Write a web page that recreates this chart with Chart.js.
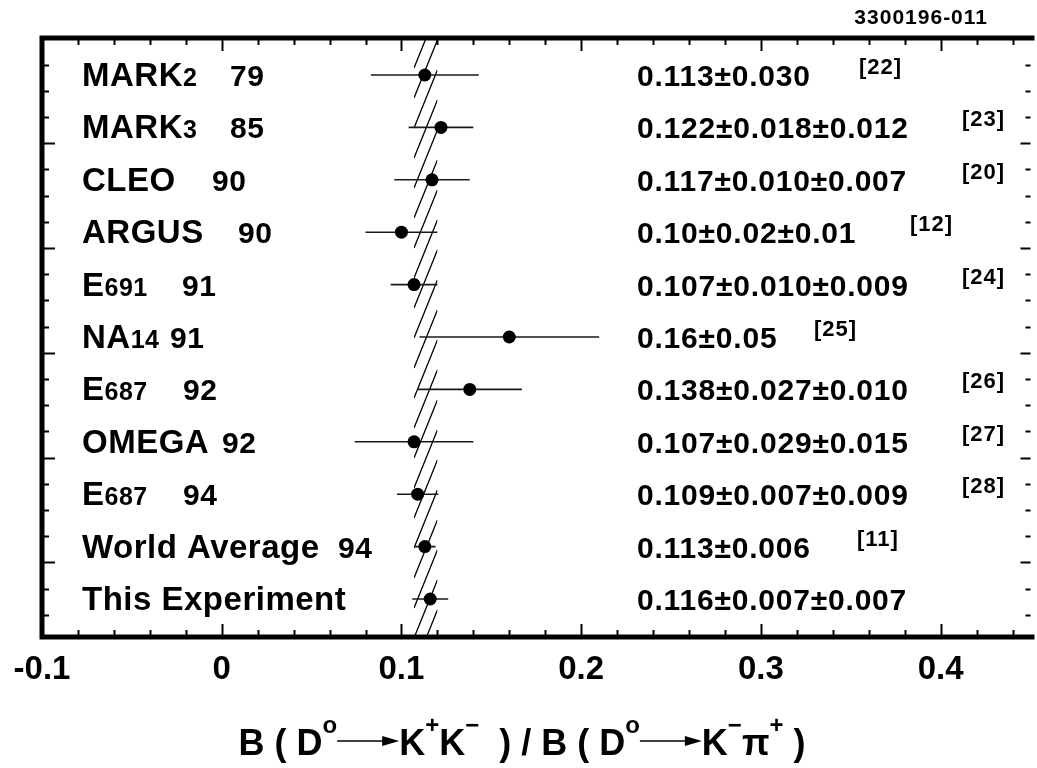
<!DOCTYPE html>
<html>
<head>
<meta charset="utf-8">
<script src="https://cdn.jsdelivr.net/npm/chart.js@4.4.1/dist/chart.umd.min.js"></script>
<style>
  html, body { margin: 0; padding: 0; background: #fff; }
  #wrap { width: 1037px; height: 768px; }
</style>
</head>
<body>
<div id="wrap"><canvas id="chart" width="1037" height="768"></canvas></div>
<script>
// B(D0 -> K+K-) / B(D0 -> K-pi+) : compilation of measurements, top to bottom
const experiments = ['MARK', 'MARK', 'CLEO', 'ARGUS', 'E', 'NA', 'E', 'OMEGA', 'E', 'World Average', 'This Experiment'];
const experimentSubs = ['2', '3', '', '', '691', '14', '687', '', '687', '', ''];
const years = ['79', '85', '90', '90', '91', '91', '92', '92', '94', '94', ''];
const ratios = [0.113, 0.122, 0.117, 0.10, 0.107, 0.16, 0.138, 0.107, 0.109, 0.113, 0.116];
const errors = [0.030, 0.018, 0.021, 0.020, 0.013, 0.050, 0.029, 0.033, 0.0115, 0.006, 0.010];
const resultTexts = [
  '0.113±0.030', '0.122±0.018±0.012', '0.117±0.010±0.007', '0.10±0.02±0.01',
  '0.107±0.010±0.009', '0.16±0.05', '0.138±0.027±0.010', '0.107±0.029±0.015',
  '0.109±0.007±0.009', '0.113±0.006', '0.116±0.007±0.007'
];
const references = ['[22]', '[23]', '[20]', '[12]', '[24]', '[25]', '[26]', '[27]', '[28]', '[11]', ''];
const bandLimits = [0.107, 0.120];
const xTickValues = [-0.1, 0, 0.1, 0.2, 0.3, 0.4];
const xTickLabels = ['-0.1', '0', '0.1', '0.2', '0.3', '0.4'];

const FONT = '"Liberation Sans", Arial, sans-serif';
const INK = '#000';

// text layout (pixels)
const LABEL_X = 82;
const YEAR_X = [230, 230, 212, 238, 182, 170, 183, 222, 183, 338, 0];
const RESULT_X = 637;
const REF_X = [859, 962, 962, 910, 962, 814, 962, 962, 962, 857, 0];

const rows = ratios.map((v, i) => i);

// hatched band of the average, drawn under the points
const hatchBand = {
  id: 'hatchBand',
  beforeDatasetsDraw(chart) {
    const { ctx, chartArea: a, scales: { x } } = chart;
    const xl = x.getPixelForValue(bandLimits[0]);
    const xr = x.getPixelForValue(bandLimits[1]);
    const rise = 58, step = 30;
    ctx.save();
    ctx.beginPath();
    ctx.rect(xl, a.top, xr - xl, a.bottom - a.top);
    ctx.clip();
    ctx.strokeStyle = INK;
    ctx.lineWidth = 1.3;
    ctx.beginPath();
    for (let y0 = a.top; y0 < a.bottom + rise; y0 += step) {
      ctx.moveTo(xl, y0);
      ctx.lineTo(xr, y0 - rise);
    }
    ctx.stroke();
    ctx.restore();
  }
};

// thick frame (open on the right) with inward ticks on all four sides
const frame = {
  id: 'frame',
  afterDraw(chart) {
    const { ctx, chartArea: a, scales: { x, y } } = chart;
    ctx.save();
    ctx.strokeStyle = INK;
    ctx.lineWidth = 2;
    ctx.beginPath();
    for (let v = -0.1; v <= 0.4501; v += 0.02) {
      const px = Math.round(x.getPixelForValue(v)) + 0.5;
      const major = Math.abs(v * 10 - Math.round(v * 10)) < 1e-6;
      const len = major ? 13 : 7;
      ctx.moveTo(px, a.bottom); ctx.lineTo(px, a.bottom - len);
      ctx.moveTo(px, a.top); ctx.lineTo(px, a.top + len);
    }
    for (let k = -4; k < 30; k++) {
      const v = 1.3 + 0.5 * k;
      if (v <= y.min || v >= y.max) continue;
      const py = Math.round(y.getPixelForValue(v)) + 0.5;
      const major = k % 4 === 0;
      ctx.moveTo(a.left, py); ctx.lineTo(a.left + (major ? 13 : 7), py);
      ctx.moveTo(a.right, py); ctx.lineTo(a.right - (major ? 10 : 5), py);
    }
    ctx.stroke();
    ctx.lineWidth = 5;
    ctx.beginPath();
    ctx.moveTo(a.right + 4, a.top);
    ctx.lineTo(a.left, a.top);
    ctx.lineTo(a.left, a.bottom);
    ctx.lineTo(a.right + 4, a.bottom);
    ctx.stroke();
    ctx.restore();
  }
};

function drawTitle(ctx, cx, base) {
  const big = 'bold 36px ' + FONT;
  const small = 'bold 24px ' + FONT;
  const pieces = [
    ['B ( D', 'n'], ['o', 'sup'], ['', 'arrow'], ['K', 'n'], ['+', 'sup'], ['K', 'n'], ['\u2212', 'sup'],
    ['  ) / B ( D', 'n'], ['o', 'sup'], ['', 'arrow'], ['K', 'n'], ['\u2212', 'sup'], ['\u03c0', 'n'], ['+', 'sup'], [' )', 'n']
  ];
  const arrowLen = 62;
  const widths = pieces.map(([t, m]) => {
    if (m === 'arrow') return arrowLen;
    ctx.font = m === 'sup' ? small : big;
    return ctx.measureText(t).width;
  });
  let px = cx - widths.reduce((s, w) => s + w, 0) / 2;
  ctx.fillStyle = INK;
  ctx.strokeStyle = INK;
  ctx.textAlign = 'left';
  ctx.textBaseline = 'alphabetic';
  pieces.forEach(([t, m], i) => {
    if (m === 'arrow') {
      const ay = base - 14;
      ctx.lineWidth = 1.5;
      ctx.beginPath();
      ctx.moveTo(px, ay); ctx.lineTo(px + arrowLen - 14, ay);
      ctx.stroke();
      ctx.beginPath();
      ctx.moveTo(px + arrowLen - 17, ay - 5);
      ctx.lineTo(px + arrowLen, ay);
      ctx.lineTo(px + arrowLen - 17, ay + 5);
      ctx.closePath();
      ctx.fill();
    } else {
      ctx.font = m === 'sup' ? small : big;
      ctx.fillText(t, px, m === 'sup' ? base - 22 : base);
    }
    px += widths[i];
  });
}

// row labels, results and references
const annotations = {
  id: 'annotations',
  afterDraw(chart) {
    const { ctx, scales: { y } } = chart;
    ctx.save();
    ctx.fillStyle = INK;
    ctx.textAlign = 'left';
    ctx.textBaseline = 'alphabetic';
    rows.forEach((r) => {
      const rowY = y.getPixelForValue(r);
      const base = rowY + 11;
      ctx.letterSpacing = '0.5px';
      ctx.font = 'bold 33px ' + FONT;
      ctx.fillText(experiments[r], LABEL_X, base);
      const px = LABEL_X + ctx.measureText(experiments[r]).width;
      if (experimentSubs[r]) {
        ctx.font = 'bold 25px ' + FONT;
        ctx.fillText(experimentSubs[r], px, base);
      }
      if (years[r]) {
        ctx.font = 'bold 30px ' + FONT;
        ctx.fillText(years[r], YEAR_X[r], base);
      }
      ctx.letterSpacing = '0.8px';
      ctx.font = 'bold 30px ' + FONT;
      ctx.fillText(resultTexts[r], RESULT_X, rowY + 11);
      if (references[r]) {
        ctx.letterSpacing = '1px';
        ctx.font = 'bold 22px ' + FONT;
        ctx.fillText(references[r], REF_X[r], rowY - 1);
      }
    });
    ctx.letterSpacing = '1px';
    ctx.font = 'bold 21px ' + FONT;
    ctx.textAlign = 'right';
    ctx.fillText('3300196-011', 988, 24);
    ctx.letterSpacing = '0px';
    drawTitle(ctx, 522, 755);
    ctx.restore();
  }
};

const errorSets = rows.map((r) => ({
  type: 'line',
  data: [{ x: ratios[r] - errors[r], y: r }, { x: ratios[r] + errors[r], y: r }],
  borderColor: '#1a1a1a',
  borderWidth: 1.6,
  pointRadius: 0,
  showLine: true,
  order: 2
}));

new Chart(document.getElementById('chart'), {
  type: 'scatter',
  data: {
    datasets: [
      ...errorSets,
      {
        data: rows.map((r) => ({ x: ratios[r], y: r })),
        pointRadius: 6.5,
        pointBackgroundColor: INK,
        pointBorderColor: INK,
        pointBorderWidth: 0,
        order: 1
      }
    ]
  },
  options: {
    responsive: false,
    animation: false,
    devicePixelRatio: 1,
    layout: { padding: { left: 42, top: 38, right: 0, bottom: 0 } },
    plugins: { legend: { display: false }, tooltip: { enabled: false } },
    scales: {
      x: {
        type: 'linear',
        min: -0.1,
        max: 0.45,
        afterBuildTicks: (s) => { s.ticks = xTickValues.map((v) => ({ value: v })); },
        afterFit: (s) => { s.height = 131; },
        ticks: {
          callback: (v, i) => xTickLabels[i],
          color: INK,
          font: { family: FONT, size: 33, weight: 'bold' },
          padding: 13,
          maxRotation: 0,
          autoSkip: false
        },
        grid: { display: false, drawTicks: false },
        border: { display: false }
      },
      y: {
        type: 'linear',
        min: -0.706,
        max: 10.725,
        reverse: true,
        display: false
      }
    }
  },
  plugins: [hatchBand, frame, annotations]
});
</script>
</body>
</html>
